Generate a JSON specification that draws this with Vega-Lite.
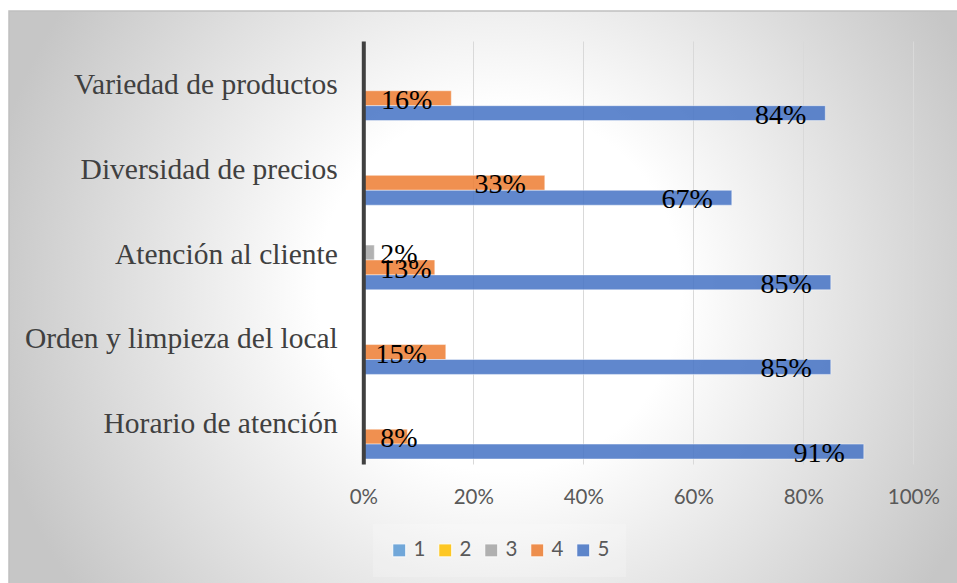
{
  "$schema": "https://vega.github.io/schema/vega-lite/v6.json",
  "width": 949,
  "height": 573,
  "autosize": {"type": "none"},
  "padding": {"left": 9, "top": 11, "right": 0, "bottom": 0},
  "background": "#ffffff",
  "view": {
    "fill": {
      "gradient": "radial",
      "x1": 0.517, "y1": 0.492, "r1": 0,
      "x2": 0.517, "y2": 0.492, "r2": 0.548,
      "stops": [
        {"offset": 0, "color": "#ffffff"},
        {"offset": 0.35, "color": "#ffffff"},
        {"offset": 1, "color": "#c6c6c6"}
      ]
    },
    "stroke": "#c0c0c0",
    "strokeWidth": 1.5
  },
  "data": {
    "values": [
      {"cat": "Variedad de productos", "serie": "4", "v": 0.16},
      {"cat": "Variedad de productos", "serie": "5", "v": 0.84},
      {"cat": "Diversidad de precios", "serie": "4", "v": 0.33},
      {"cat": "Diversidad de precios", "serie": "5", "v": 0.67},
      {"cat": "Atención al cliente", "serie": "3", "v": 0.02},
      {"cat": "Atención al cliente", "serie": "4", "v": 0.13},
      {"cat": "Atención al cliente", "serie": "5", "v": 0.85},
      {"cat": "Orden y limpieza del local", "serie": "4", "v": 0.15},
      {"cat": "Orden y limpieza del local", "serie": "5", "v": 0.85},
      {"cat": "Horario de atención", "serie": "4", "v": 0.08},
      {"cat": "Horario de atención", "serie": "5", "v": 0.91}
    ]
  },
  "encoding": {
    "y": {
      "field": "cat",
      "type": "nominal",
      "sort": ["Variedad de productos", "Diversidad de precios", "Atención al cliente", "Orden y limpieza del local", "Horario de atención"],
      "scale": {"range": [30, 453], "paddingInner": 0.118, "paddingOuter": 0.059},
      "axis": {
        "orient": "left",
        "offset": -354.3,
        "title": null,
        "domain": true,
        "domainColor": "#404040",
        "domainWidth": 4,
        "ticks": false,
        "tickSize": 0,
        "grid": false,
        "labelPadding": 26,
        "labelOffset": 2,
        "labelFont": "Liberation Serif",
        "labelFontSize": 29.5,
        "labelColor": "#404040",
        "labelLimit": 0,
        "zindex": 1
      }
    },
    "yOffset": {
      "field": "serie",
      "type": "nominal",
      "scale": {"domain": ["1", "2", "3", "4", "5"]}
    }
  },
  "layer": [
    {
      "mark": {"type": "bar", "fillOpacity": 0.85, "stroke": "#ffffff", "strokeOpacity": 0.45, "strokeWidth": 1},
      "encoding": {
        "x": {
          "field": "v",
          "type": "quantitative",
          "scale": {"domain": [0, 1], "range": [354.3, 904.3], "nice": false},
          "axis": {
            "orient": "top",
            "offset": -520,
            "values": [0, 0.2, 0.4, 0.6, 0.8, 1],
            "format": "%",
            "title": null,
            "domain": false,
            "ticks": false,
            "tickSize": 0,
            "labelPadding": 34,
            "labelBaseline": "middle",
            "labelFlush": false,
            "labelFont": "Lato",
            "labelFontSize": 20.5,
            "labelColor": "#595959",
            "grid": true,
            "gridColor": "#d9d9d9",
            "gridWidth": 1
          }
        },
        "color": {
          "field": "serie",
          "type": "nominal",
          "scale": {
            "domain": ["1", "2", "3", "4", "5"],
            "range": ["#5B9BD5", "#FFC000", "#A5A5A5", "#ED7D31", "#4472C4"]
          },
          "legend": {
            "orient": "none",
            "legendX": 364,
            "legendY": 513,
            "direction": "horizontal",
            "title": null,
            "symbolType": "square",
            "symbolSize": 169,
            "symbolOpacity": 0.85,
            "symbolStrokeColor": "#ffffff",
            "symbolStrokeWidth": 1,
            "labelFont": "Lato",
            "labelFontSize": 20.5,
            "labelColor": "#595959",
            "labelOffset": 4,
            "columnPadding": 9,
            "padding": 16,
            "fillColor": "rgba(255,255,255,0.2)"
          }
        }
      }
    },
    {
      "transform": [{"filter": "datum.v >= 0.15"}],
      "mark": {"type": "text", "align": "right", "baseline": "alphabetic", "dx": -19, "dy": 10.5, "font": "Liberation Serif", "fontSize": 28, "color": "#000000"},
      "encoding": {
        "x": {"field": "v", "type": "quantitative"},
        "text": {"field": "v", "type": "quantitative", "format": ".0%"}
      }
    },
    {
      "transform": [{"filter": "datum.v < 0.15"}],
      "mark": {"type": "text", "align": "left", "baseline": "alphabetic", "dx": 17, "dy": 10.5, "font": "Liberation Serif", "fontSize": 28, "color": "#000000"},
      "encoding": {
        "x": {"datum": 0, "type": "quantitative"},
        "text": {"field": "v", "type": "quantitative", "format": ".0%"}
      }
    }
  ]
}
